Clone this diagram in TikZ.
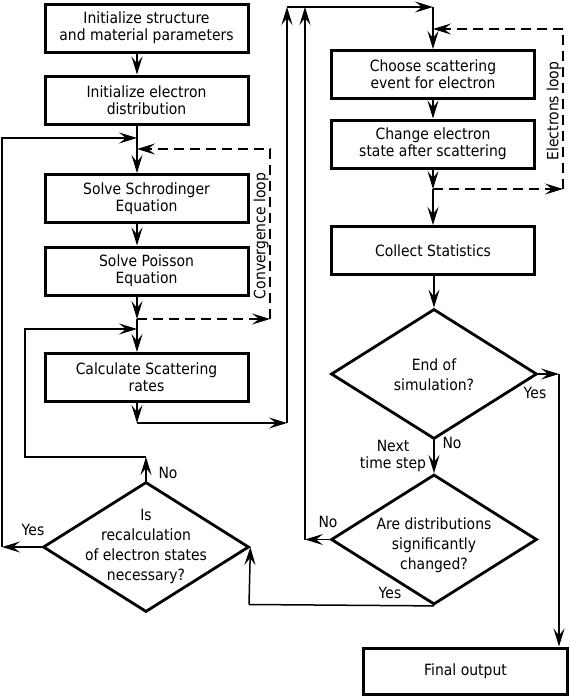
\documentclass[tikz,border=0pt]{standalone}
\usepackage{fontspec}
\setmainfont{DejaVu Sans}[FakeStretch=0.9]
\usetikzlibrary{arrows.meta,shapes.geometric}
\begin{document}
\begin{tikzpicture}[x=1pt,y=-1pt,
  box/.style={draw, line width=3pt, minimum width=203pt, minimum height=48pt, inner sep=0pt, align=center, font=\fontsize{15.5}{17}\selectfont},
  dia/.style={draw, diamond, line width=2.8pt, minimum width=206pt, minimum height=130pt, inner sep=0pt},
  dtext/.style={align=center, font=\fontsize{15.5}{20}\selectfont, inner sep=0pt},
  lab/.style={font=\fontsize{15.5}{17}\selectfont, inner sep=0pt, align=center},
  tip/.style={-{Stealth[length=18pt,width=11pt,inset=7pt]}},
  conn/.style={line width=1.5pt, tip},
  plain/.style={line width=1.5pt},
  dconn/.style={line width=1.5pt, dash pattern=on 10pt off 6pt, tip}
]
\useasboundingbox (0,0) rectangle (570,697);

\node[box] (b1) at (146.5,28) {Initialize structure\\and material parameters};
\node[box] (b2) at (146.5,100) {Initialize electron\\distribution};
\node[box] (b3) at (146.5,198.5) {Solve Schrodinger\\Equation};
\node[box] (b4) at (146.5,271) {Solve Poisson\\Equation};
\node[box] (b5) at (146.5,377.5) {Calculate Scattering\\rates};
\node[box] (b6) at (433,74.5) {Choose scattering\\event for electron};
\node[box] (b7) at (433,144) {Change electron\\state after scattering};
\node[box] (b8) at (433,250.5) {Collect Statistics};
\node[box, minimum width=204pt, minimum height=46pt] (b9) at (465.5,671) {Final output};

\node[dia] (d1) at (434,374) {};
\node[dtext] (d1t) at (434,375) {End of\\simulation?};
\node[dia] (d2) at (434,539.5) {};
\node[dtext] (d2t) at (434,545) {Are distributions\\significantly\\changed?};
\node[dia] (d3) at (146,547) {};
\node[dtext] (d3t) at (146,546) {Is\\recalculation\\of electron states\\necessary?};

\coordinate (j1) at (137,138);
\coordinate (j2) at (137,149);
\coordinate (j3) at (137,319);
\coordinate (j4) at (137,329);
\coordinate (j5) at (137,423);
\coordinate (k1) at (287,423);
\coordinate (k2) at (287,7);
\coordinate (k3) at (433,7);
\coordinate (m1) at (433,29);
\coordinate (m2) at (563,29);
\coordinate (m3) at (563,189);
\coordinate (m4) at (433,189);
\coordinate (c1) at (270,149);
\coordinate (c2) at (270,319);
\coordinate (y1) at (559,374);
\coordinate (n1) at (305,539.5);
\coordinate (n2) at (305,7);
\coordinate (q1) at (249,604.5);
\coordinate (r1) at (2,547);
\coordinate (r2) at (2,138);
\coordinate (s1) at (146,457);
\coordinate (s2) at (25,457);
\coordinate (s3) at (25,329);

\draw[conn] (b1.south -| j1) -- (b2.north -| j1);
\draw[plain] (b2.south -| j1) -- (j1);
\draw[conn] (j1) -- (b3.north -| j1);
\draw[conn] (b3.south -| j1) -- (b4.north -| j1);
\draw[conn] (b4.south -| j1) -- (j3);
\draw[conn] (j3) -- (b5.north -| j1);
\draw[conn] (b5.south -| j1) -- (j5);
\draw[conn] (j5) -- (k1);
\draw[conn] (k1) -- (k2);
\draw[conn] (k2) -- (k3);
\draw[conn] (k3) -- (b6.north -| k3);
\draw[conn] (b6.south -| k3) -- (b7.north -| k3);
\draw[conn] (b7.south -| k3) -- (m4);
\draw[conn] (m4) -- (b8.north -| k3);
\draw[dconn] (m4) -- (m3);
\draw[dconn] (m3) -- (m2) -- (m1);
\draw[conn] (b8.south -| d1.north) -- (d1.north);
\draw[conn] (d1.east) -- (y1);
\draw[conn] (y1) -- (b9.north -| y1);
\draw[conn] (d1.south) -- (d2.north);
\draw[conn] (d2.west) -- (n1);
\draw[conn] (n1) -- (n2);
\draw[plain] (d2.south) -- (q1);
\draw[conn] (q1) -- (d3.east);
\draw[conn] (d3.west) -- (r1);
\draw[conn] (r1) -- (r2) -- (j1);
\draw[conn] (d3.north) -- (s1);
\draw[conn] (s1) -- (s2) -- (s3) -- (j4);
\draw[dconn] (j3) -- (c2);
\draw[dconn] (c2) -- (c1) -- (j2);

\node[lab, rotate=90] (cl) at (261,236) {Convergence loop};
\node[lab, rotate=90] (el) at (554,111) {Electrons loop};

\node[lab] (ly3) at (33,530) {Yes};
\node[lab] (ln3) at (168,473) {No};
\node[lab] (ly1) at (535,393) {Yes};
\node[lab] (ln1) at (452,443) {No};
\node[lab] (nts) at (393,456) {Next\\time step};
\node[lab] (ln2) at (328,522) {No};
\node[lab] (ly2) at (390,593) {Yes};
\end{tikzpicture}
\end{document}
